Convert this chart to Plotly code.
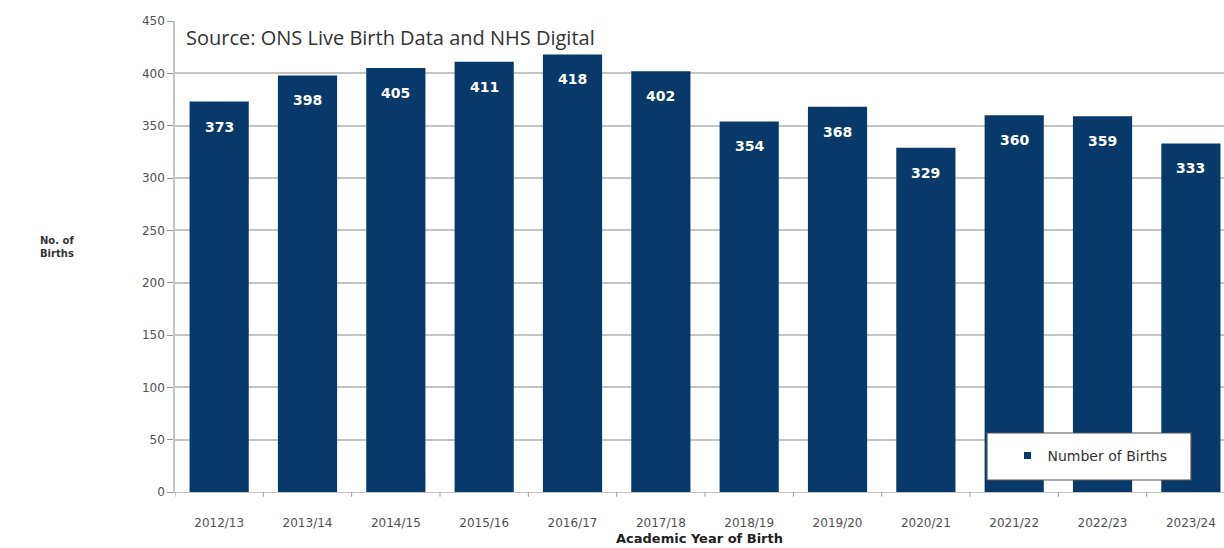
import plotly.graph_objects as go

years = ["2012/13", "2013/14", "2014/15", "2015/16", "2016/17", "2017/18",
         "2018/19", "2019/20", "2020/21", "2021/22", "2022/23", "2023/24"]
births = [373, 398, 405, 411, 418, 402, 354, 368, 329, 360, 359, 333]
y_ticks = [0, 50, 100, 150, 200, 250, 300, 350, 400, 450]

BAR = "#073a6b"
GRID = "#c4c4c4"
TXT = "#505050"

fig = go.Figure()
fig.add_trace(go.Bar(
    x=years, y=births, marker_color=BAR, marker_line_width=0,
    showlegend=False, hoverinfo="x+y",
))
# legend entry with a small square marker
fig.add_trace(go.Scatter(
    x=[None], y=[None], mode="markers", name="Number of Births",
    marker=dict(symbol="square", size=7, color=BAR),
))

# value labels near the top of each bar
for yr, v in zip(years, births):
    fig.add_annotation(
        x=yr, y=v, text=f"<b>{v}</b>", showarrow=False, yshift=-25,
        font=dict(family="DejaVu Sans", size=14, color="white"),
    )

fig.add_annotation(
    xref="paper", yref="paper", x=0.009, y=0.997, xanchor="left", yanchor="top",
    text="Source: ONS Live Birth Data and NHS Digital", showarrow=False,
    font=dict(family="Open Sans", size=20, color="#333333"),
)
fig.add_annotation(
    xref="paper", yref="paper", x=-0.131, y=0.52, xanchor="left", yanchor="middle",
    text="<b>No. of<br>Births</b>", showarrow=False, align="left",
    font=dict(family="DejaVu Sans", size=10, color="#333333"),
)
fig.add_annotation(
    xref="paper", yref="paper", x=0.5, y=-0.118, xanchor="center", yanchor="bottom",
    text="<b>Academic Year of Birth</b>", showarrow=False,
    font=dict(family="DejaVu Sans", size=13, color="#222222"),
)

# legend frame
fig.add_shape(
    type="rect", xref="paper", yref="paper",
    x0=(987 - 175) / 1049, x1=(1191 - 175) / 1049, y0=(492 - 480) / 471, y1=(492 - 433) / 471,
    line=dict(color="#555555", width=1.2), fillcolor="white", layer="above",
)

fig.update_layout(
    width=1224, height=548,
    margin=dict(l=175, r=0, t=21, b=56),
    paper_bgcolor="white", plot_bgcolor="white",
    bargap=0.33,
    showlegend=True,
    legend=dict(
        x=(1090 - 175) / 1049, y=(492 - 456) / 471, xanchor="center", yanchor="middle",
        bgcolor="rgba(0,0,0,0)", borderwidth=0,
        font=dict(family="DejaVu Sans", size=14, color="#333333"),
        itemwidth=30,
    ),
    xaxis=dict(
        range=[-0.5, 11.375], showgrid=False,
        showline=True, linecolor=GRID, linewidth=1,
        ticks="", ticklabelstandoff=20,
        tickfont=dict(family="DejaVu Sans", size=12, color=TXT),
        fixedrange=True,
    ),
    yaxis=dict(
        range=[0, 450], tickvals=y_ticks,
        showgrid=True, gridcolor=GRID, gridwidth=2,
        showline=True, linecolor=GRID, linewidth=1.5,
        ticks="outside", ticklen=6, tickcolor="#999999",
        tickfont=dict(family="DejaVu Sans", size=12, color=TXT),
        zeroline=False, fixedrange=True,
    ),
)

# category boundary tick marks on the x axis
for i in range(len(years)):
    fig.add_shape(
        type="line", xref="x", yref="paper", x0=i - 0.5, x1=i - 0.5, y0=0, y1=-0.01,
        line=dict(color="#999999", width=1),
    )

fig.write_html("out.html")
